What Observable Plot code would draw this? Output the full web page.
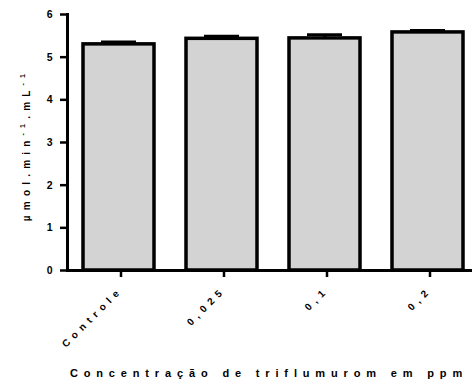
<!DOCTYPE html>
<html>
<head>
<meta charset="utf-8">
<script src="https://cdn.jsdelivr.net/npm/d3@7"></script>
<script src="https://cdn.jsdelivr.net/npm/@observablehq/plot@0.6"></script>
<style>
  body { margin: 0; background: #fff; }
  #chart svg { font-family: "Liberation Sans", Arial, sans-serif; }
  #chart g[aria-label="x-axis tick label"] text { letter-spacing: 5px; }
</style>
</head>
<body>
<div id="chart"></div>
<script>
// Enzyme activity by triflumurom concentration (mean with upper error)
const categories = ["Controle", "0,025", "0,1", "0,2"];
const means = [5.30, 5.43, 5.44, 5.58];
const errors = [0.06, 0.06, 0.09, 0.05];
const yTicks = [0, 1, 2, 3, 4, 5, 6];

const data = categories.map((c, i) => ({cat: c, mean: means[i], top: means[i] + errors[i]}));

const svg = Plot.plot({
  width: 472,
  height: 383,
  marginTop: 14,
  marginLeft: 67,
  marginRight: 0,
  marginBottom: 113,
  style: {fontFamily: "Liberation Sans, Arial, sans-serif", fontWeight: "bold", background: "#fff"},
  x: {type: "band", domain: categories, paddingInner: 0.31, paddingOuter: 0.121, align: 0.66},
  y: {domain: [0, 6]},
  marks: [
    Plot.ruleX(data, {x: "cat", y1: "mean", y2: "top", stroke: "black", strokeWidth: 3}),
    Plot.tickY(data, {x: "cat", y: "top", stroke: "black", strokeWidth: 2.8, insetLeft: 18, insetRight: 18}),
    Plot.barY(data, {x: "cat", y: "mean", fill: "#d3d3d3", stroke: "black", strokeWidth: 3.5}),
    Plot.axisY({ticks: yTicks, tickSize: 7, tickPadding: 8, strokeWidth: 2.5, fontSize: 10.5, fontWeight: "bold", label: null, tickFormat: d3.format("d")}),
    Plot.axisX({tickSize: 7, tickPadding: 11, strokeWidth: 2.5, tickRotate: -45, fontSize: 10, fontWeight: "bold", label: null, dx: 2}),
    Plot.frame({anchor: "left", stroke: "black", strokeWidth: 3}),
    Plot.ruleY([0], {stroke: "black", strokeWidth: 3})
  ]
});

const root = d3.select(svg);

// y-axis title with superscripts
const yl = root.append("text")
  .attr("transform", "translate(30,145) rotate(-90)")
  .attr("text-anchor", "middle")
  .attr("font-size", 10)
  .attr("font-weight", "bold")
  .attr("fill", "black")
  .style("letter-spacing", "5.2px");
yl.append("tspan").text("µmol.min");
yl.append("tspan").attr("dy", -5).attr("font-size", 7).text("-1");
yl.append("tspan").attr("dy", 5).text(".mL");
yl.append("tspan").attr("dy", -5).attr("font-size", 7).text("-1");

// x-axis title
root.append("text")
  .attr("x", 269)
  .attr("y", 377)
  .attr("text-anchor", "middle")
  .attr("font-size", 11)
  .attr("font-weight", "bold")
  .attr("fill", "black")
  .style("letter-spacing", "5.85px")
  .text("Concentração de triflumurom em ppm");

document.getElementById("chart").appendChild(svg);
</script>
</body>
</html>
